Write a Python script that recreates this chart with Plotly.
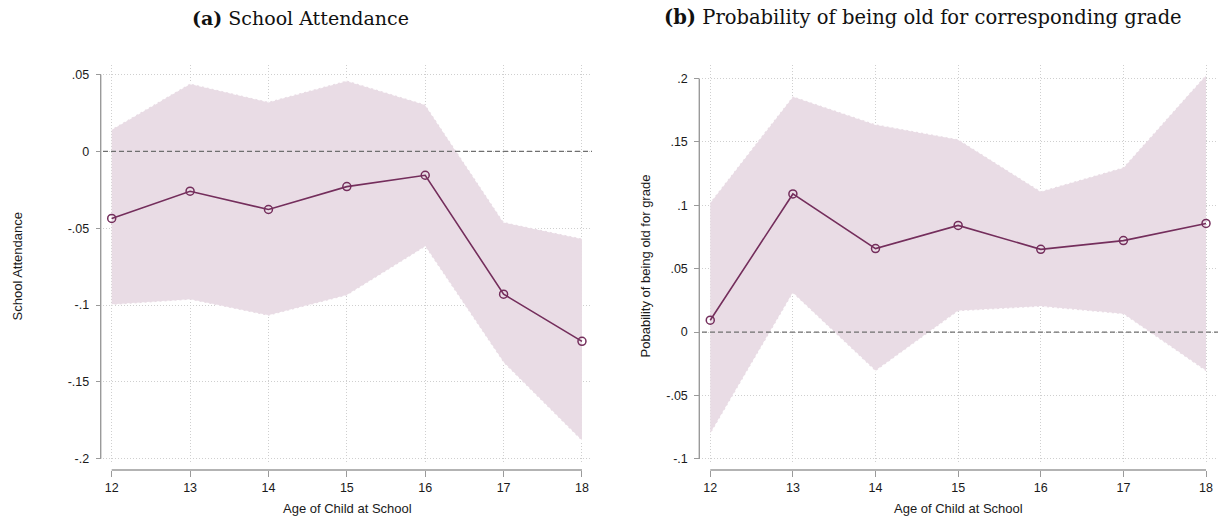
import plotly.graph_objects as go

# Ages on the horizontal axis
ages = [12, 13, 14, 15, 16, 17, 18]

# Panel (a): school attendance estimates with 95% CI
att_coef = [-0.0436, -0.0259, -0.0378, -0.0229, -0.0155, -0.0929, -0.1236]
att_upper = [0.0144, 0.0442, 0.0323, 0.0461, 0.0306, -0.0459, -0.0567]
att_lower = [-0.0999, -0.0966, -0.1070, -0.0938, -0.0621, -0.1376, -0.1885]

# Panel (b): probability of being old for grade with 95% CI
old_coef = [0.0094, 0.1090, 0.0659, 0.0842, 0.0653, 0.0722, 0.0857]
old_upper = [0.1025, 0.1861, 0.1639, 0.1522, 0.1111, 0.1300, 0.2031]
old_lower = [-0.0805, 0.0306, -0.0308, 0.0165, 0.0201, 0.0141, -0.0308]

# Tick labels
att_ticks = [0.05, 0, -0.05, -0.1, -0.15, -0.2]
att_ticktext = [".05", "0", "-.05", "-.1", "-.15", "-.2"]
old_ticks = [0.2, 0.15, 0.1, 0.05, 0, -0.05, -0.1]
old_ticktext = [".2", ".15", ".1", ".05", "0", "-.05", "-.1"]

W, H = 1224, 523
LINE = "#742e5c"
FILL = "rgb(233,220,229)"
GRID = "#cfcfcf"
AXIS = "#9a9a9a"
SANS = "Liberation Sans"
SERIF = "DejaVu Serif"


def px_x(p):
    return p / W


def px_y(p):
    return 1 - p / H


fig = go.Figure()


def add_panel(xa, ya, coef, lo, hi):
    edge = dict(color="rgba(255,255,255,0.95)", width=1.3, dash="3px,2px")
    fig.add_trace(go.Scatter(x=ages, y=lo, mode="lines", xaxis=xa, yaxis=ya,
                             line=edge, hoverinfo="skip", showlegend=False))
    fig.add_trace(go.Scatter(x=ages, y=hi, mode="lines", xaxis=xa, yaxis=ya,
                             fill="tonexty", fillcolor=FILL,
                             line=edge, hoverinfo="skip", showlegend=False))
    fig.add_trace(go.Scatter(x=ages, y=coef, mode="lines+markers", xaxis=xa, yaxis=ya,
                             line=dict(color=LINE, width=1.6),
                             marker=dict(symbol="circle-open", size=8, color=LINE,
                                         line=dict(width=1.5, color=LINE)),
                             showlegend=False))


add_panel("x", "y", att_coef, att_lower, att_upper)
add_panel("x2", "y2", old_coef, old_lower, old_upper)

ydom = [px_y(466), px_y(65)]
xaxis_pos = px_y(472.7)

common_x = dict(
    tickvals=ages, ticktext=[str(a) for a in ages],
    showgrid=True, gridcolor=GRID, griddash="1px,2px", gridwidth=1,
    zeroline=False, showline=False, ticks="outside", ticklen=6,
    tickcolor=AXIS, tickwidth=1.3,
    tickfont=dict(family=SANS, size=12.5, color="#1a1a1a"),
    anchor="free", position=xaxis_pos,
)
common_y = dict(
    showgrid=True, gridcolor=GRID, griddash="1px,2px", gridwidth=1,
    zeroline=False, showline=False, ticks="outside", ticklen=5,
    tickcolor=AXIS, tickwidth=1.3, ticklabelstandoff=4,
    tickfont=dict(family=SANS, size=12.5, color="#1a1a1a"),
    anchor="free", domain=ydom,
)

fig.update_layout(
    width=W, height=H,
    margin=dict(l=0, r=0, t=0, b=0),
    paper_bgcolor="white", plot_bgcolor="white",
    xaxis=dict(domain=[px_x(103), px_x(592)], range=[11.889, 18.128], **common_x),
    yaxis=dict(range=[-0.203, 0.0565], tickvals=att_ticks, ticktext=att_ticktext,
               position=px_x(100.7), **common_y),
    xaxis2=dict(domain=[px_x(702), px_x(1218)], range=[11.9, 18.145], **common_x),
    yaxis2=dict(range=[-0.1035, 0.211], tickvals=old_ticks, ticktext=old_ticktext,
                position=px_x(699.3), **common_y),
)

shapes = []
# dashed reference line at zero
for xr, yr in [("x domain", "y"), ("x2 domain", "y2")]:
    shapes.append(dict(type="line", xref=xr, yref=yr, x0=0, x1=1, y0=0, y1=0,
                       line=dict(color="#6f6f6f", width=1.2, dash="5px,3px"), layer="above"))
# axis lines spanning the tick range
shapes.append(dict(type="line", xref="paper", yref="y", x0=px_x(100.7), x1=px_x(100.7),
                   y0=-0.2, y1=0.05, line=dict(color=AXIS, width=1.4)))
shapes.append(dict(type="line", xref="paper", yref="y2", x0=px_x(699.3), x1=px_x(699.3),
                   y0=-0.1, y1=0.2, line=dict(color=AXIS, width=1.4)))
shapes.append(dict(type="line", xref="x", yref="paper", x0=12, x1=18,
                   y0=xaxis_pos, y1=xaxis_pos, line=dict(color=AXIS, width=1.4)))
shapes.append(dict(type="line", xref="x2", yref="paper", x0=12, x1=18,
                   y0=xaxis_pos, y1=xaxis_pos, line=dict(color=AXIS, width=1.4)))
fig.update_layout(shapes=shapes)

annotations = [
    dict(text="<b>(a)</b> School Attendance", x=px_x(300), y=px_y(18), xref="paper", yref="paper",
         showarrow=False, xanchor="center", yanchor="middle",
         font=dict(family=SERIF, size=19, color="#111")),
    dict(text="<b>(b)</b> Probability of being old for corresponding grade", x=px_x(923), y=px_y(18),
         xref="paper", yref="paper", showarrow=False, xanchor="center", yanchor="middle",
         font=dict(family=SERIF, size=19.5, color="#111")),
    dict(text="School Attendance", x=px_x(17), y=px_y(268), xref="paper", yref="paper",
         showarrow=False, textangle=-90, xanchor="center", yanchor="middle",
         font=dict(family=SANS, size=13, color="#1a1a1a")),
    dict(text="Pobability of being old for grade", x=px_x(645), y=px_y(268), xref="paper", yref="paper",
         showarrow=False, textangle=-90, xanchor="center", yanchor="middle",
         font=dict(family=SANS, size=13, color="#1a1a1a")),
    dict(text="Age of Child at School", x=px_x(347), y=px_y(511), xref="paper", yref="paper",
         showarrow=False, xanchor="center", yanchor="middle",
         font=dict(family=SANS, size=13, color="#1a1a1a")),
    dict(text="Age of Child at School", x=px_x(958), y=px_y(511), xref="paper", yref="paper",
         showarrow=False, xanchor="center", yanchor="middle",
         font=dict(family=SANS, size=13, color="#1a1a1a")),
]
fig.update_layout(annotations=annotations)

fig.write_html("out.html")
